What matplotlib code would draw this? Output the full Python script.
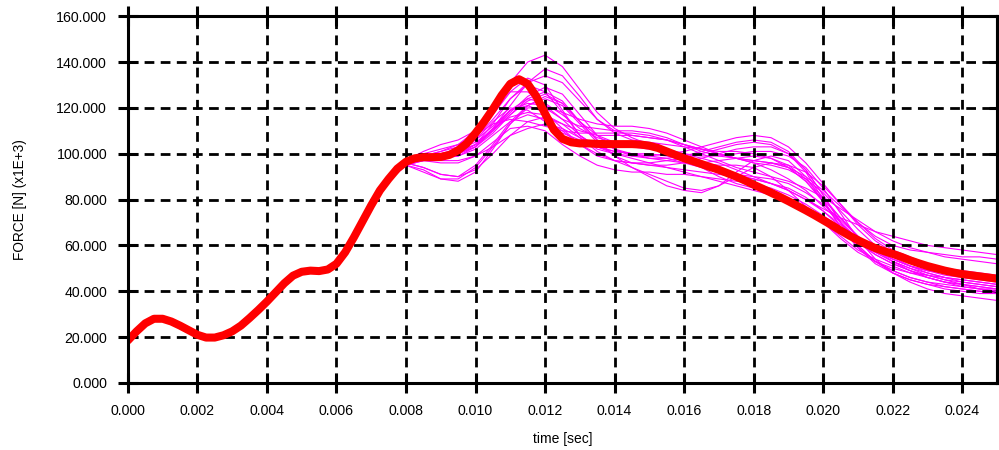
import numpy as np
import matplotlib
matplotlib.use("Agg")
import matplotlib.pyplot as plt
from matplotlib.ticker import FormatStrFormatter, MultipleLocator

plt.rcParams['font.family'] = ['Liberation Sans', 'DejaVu Sans']

# ------------------------------------------------
# Mean force curve (kN), sampled every 0.25 ms
# ------------------------------------------------
t_mean = np.round(np.arange(101) * 0.00025, 5)
force_mean = [18.5, 22.5, 26.0, 28.0, 28.0, 26.8, 25.0, 23.0, 21.0, 19.8,
              19.8, 20.8, 22.5, 25.0, 28.3, 31.8, 35.5, 39.5, 43.5, 46.8,
              48.5, 49.0, 48.8, 49.5, 52.0, 57.0, 63.5, 70.5, 77.5, 84.0,
              89.0, 93.5, 96.5, 98.0, 98.5, 98.5, 98.6, 99.5, 101.5, 104.5,
              109.0, 114.0, 119.5, 125.5, 130.5, 132.5, 130.5, 125.0, 117.5, 110.5,
              106.5, 105.0, 104.5, 104.5, 104.3, 104.2, 104.2, 104.2, 104.2, 104.0,
              103.5, 102.5, 101.0, 99.5, 98.0, 96.8, 95.5, 94.2, 93.0, 91.5,
              90.0, 88.3, 86.5, 84.8, 83.0, 81.2, 79.3, 77.3, 75.3, 73.2,
              71.0, 68.8, 66.5, 64.3, 62.3, 60.5, 58.8, 57.5, 56.3, 55.0,
              53.5, 52.2, 51.0, 50.0, 49.0, 48.2, 47.5, 47.0, 46.5, 46.0,
              45.5]

# ------------------------------------------------
# Individual runs (kN), 7 ms .. 25 ms every 0.5 ms
# (before 7 ms all runs sit under the mean curve)
# ------------------------------------------------
t_runs = np.round(0.007 + np.arange(37) * 0.0005, 4)

run_01 = [78, 89, 96, 99, 101, 104, 110, 120, 131, 140, 143, 138, 128, 118, 111, 107, 104, 101, 98,
          96, 95, 95, 94, 90, 84, 77, 70, 63, 57, 53, 50, 48, 47, 46, 45, 44, 43]
run_02 = [77, 88, 95, 97, 99, 102, 107, 115, 124, 131, 134, 131, 123, 115, 110, 108, 107, 106, 104,
          102, 101, 101, 100, 98, 94, 88, 80, 72, 64, 58, 54, 51, 49, 48, 47, 46, 45]
run_03 = [78, 89, 95, 93, 89, 88, 92, 102, 113, 120, 120, 115, 108, 103, 101, 100, 100, 99, 97,
          94, 90, 87, 85, 83, 80, 76, 71, 66, 61, 57, 53, 50, 47, 45, 43, 41, 40]
run_04 = [78, 90, 96, 94, 91, 90, 95, 104, 114, 121, 125, 122, 114, 106, 99, 94, 90, 86, 84,
          83, 86, 92, 97, 99, 97, 90, 79, 68, 59, 52, 48, 45, 43, 42, 41, 40, 39]
run_05 = [78, 89, 97, 101, 104, 106, 110, 118, 127, 127, 121, 115, 112, 111, 110, 110, 109, 107, 104,
          101, 99, 98, 97, 96, 95, 92, 86, 78, 69, 62, 57, 53, 50, 48, 47, 46, 45]
run_06 = [77, 89, 96, 98, 98, 99, 102, 108, 114, 117, 115, 110, 104, 100, 97, 96, 96, 97, 98,
          100, 102, 104, 105, 104, 100, 92, 80, 68, 59, 53, 49, 46, 44, 42, 41, 40, 39]
run_07 = [78, 89, 96, 97, 96, 96, 99, 105, 111, 112, 110, 104, 99, 95, 93, 92, 92, 91, 91,
          90, 89, 88, 87, 85, 82, 78, 73, 68, 63, 59, 56, 53, 51, 49, 48, 47, 46]
run_08 = [77, 89, 96, 98, 100, 101, 104, 113, 124, 130, 127, 118, 108, 102, 100, 99, 99, 100, 101,
          103, 105, 107, 108, 107, 103, 96, 87, 78, 70, 64, 60, 58, 57, 56, 55, 55, 54]
run_09 = [78, 89, 96, 98, 99, 100, 103, 110, 119, 124, 122, 117, 111, 107, 105, 104, 103, 102, 100,
          98, 96, 93, 90, 87, 84, 80, 76, 72, 69, 66, 64, 62, 60, 59, 58, 57, 56]
run_10 = [77, 88, 95, 97, 98, 100, 104, 111, 121, 131, 137, 134, 125, 115, 109, 106, 105, 104, 103,
          102, 100, 98, 96, 93, 89, 84, 77, 70, 63, 57, 53, 50, 48, 46, 45, 44, 43]
run_11 = [78, 90, 96, 94, 91, 90, 93, 100, 108, 114, 116, 113, 107, 101, 97, 94, 91, 88, 85,
          84, 86, 90, 94, 96, 94, 88, 79, 70, 62, 56, 52, 49, 46, 44, 42, 41, 40]
run_12 = [78, 89, 96, 99, 101, 103, 106, 112, 119, 122, 121, 118, 115, 113, 112, 112, 111, 109, 106,
          103, 100, 98, 96, 95, 93, 89, 83, 75, 67, 60, 55, 51, 48, 46, 44, 43, 42]
run_13 = [77, 89, 96, 98, 99, 100, 103, 109, 117, 124, 127, 123, 114, 106, 102, 100, 98, 97, 96,
          96, 97, 98, 99, 98, 95, 89, 81, 72, 64, 58, 53, 49, 46, 44, 43, 42, 41]
run_14 = [78, 89, 96, 97, 97, 97, 99, 103, 108, 111, 113, 111, 107, 103, 100, 98, 96, 94, 92,
          90, 88, 86, 84, 82, 79, 75, 70, 64, 58, 54, 51, 48, 46, 44, 43, 42, 41]
run_15 = [77, 89, 96, 98, 99, 101, 106, 114, 120, 119, 114, 109, 106, 105, 104, 103, 102, 101, 100,
          99, 99, 100, 101, 101, 99, 94, 85, 74, 63, 54, 48, 44, 41, 39, 38, 37, 36]
run_16 = [78, 89, 96, 98, 100, 102, 107, 117, 127, 133, 130, 119, 108, 103, 101, 100, 99, 98, 96,
          94, 92, 91, 90, 89, 87, 83, 78, 71, 64, 58, 54, 51, 49, 47, 46, 45, 44]
run_17 = [77, 89, 96, 98, 99, 100, 104, 111, 116, 118, 117, 113, 110, 108, 108, 108, 107, 106, 104,
          102, 100, 98, 97, 96, 94, 90, 84, 77, 70, 63, 58, 55, 52, 50, 49, 48, 47]
run_18 = [78, 90, 95, 92, 89, 89, 94, 103, 113, 121, 124, 121, 113, 105, 99, 96, 95, 95, 96,
          98, 100, 102, 103, 103, 100, 93, 82, 70, 60, 53, 48, 45, 43, 41, 40, 39, 39]
run_19 = [78, 89, 96, 98, 100, 102, 105, 110, 117, 123, 126, 122, 114, 108, 105, 104, 103, 101, 98,
          95, 93, 91, 89, 87, 85, 81, 75, 68, 61, 56, 52, 49, 47, 45, 44, 43, 42]
run_20 = [77, 89, 96, 98, 98, 99, 103, 111, 119, 121, 118, 111, 104, 99, 97, 96, 95, 94, 93,
          92, 91, 90, 89, 87, 84, 80, 75, 69, 63, 58, 54, 51, 49, 48, 47, 46, 46]
run_21 = [78, 89, 96, 98, 99, 101, 104, 110, 118, 125, 129, 126, 117, 108, 102, 99, 98, 98, 99,
          101, 103, 105, 106, 105, 101, 93, 82, 70, 60, 53, 49, 46, 44, 43, 42, 41, 41]
run_22 = [78, 89, 97, 100, 102, 104, 108, 113, 115, 114, 112, 110, 109, 109, 109, 109, 108, 106, 103,
          100, 97, 94, 92, 90, 88, 85, 81, 76, 71, 66, 62, 59, 57, 55, 54, 53, 52]

runs = [run_01, run_02, run_03, run_04, run_05, run_06, run_07, run_08, run_09, run_10, run_11,
        run_12, run_13, run_14, run_15, run_16, run_17, run_18, run_19, run_20, run_21, run_22]

# -------------
# Drawing plot
# -------------
fig = plt.figure(figsize=(9.99, 4.5), dpi=100)
ax = fig.add_axes([0.128, 0.149, 0.870, 0.815])

for run in runs:
    ax.plot(t_runs, run, color="#ff00ff", lw=0.8, zorder=1)

ax.plot(t_mean, force_mean, color="#ff0000", lw=5.8, solid_capstyle="round",
        solid_joinstyle="round", zorder=3)

ax.set_xlim(0, 0.025)
ax.set_ylim(0, 160)
ax.xaxis.set_major_locator(MultipleLocator(0.002))
ax.yaxis.set_major_locator(MultipleLocator(20))
ax.xaxis.set_major_formatter(FormatStrFormatter("%.3f"))
ax.yaxis.set_major_formatter(FormatStrFormatter("%.3f"))

ax.grid(True, color="black", lw=2.0, linestyle=(0, (3.5, 2.3)))
ax.set_axisbelow(False)

for side in ["left", "bottom", "top", "right"]:
    ax.spines[side].set_linewidth(2.2)
    ax.spines[side].set_zorder(4)

ax.tick_params(axis="both", which="major", direction="inout", length=14, width=2.2,
               labelsize=10.2, pad=8, top=True, right=False)
ax.tick_params(axis="x", pad=8)

# short inward ticks on the right frame
right_ax = ax.secondary_yaxis("right")
right_ax.yaxis.set_major_locator(MultipleLocator(20))
right_ax.tick_params(direction="in", length=6, width=2.2, labelright=False)
right_ax.spines["right"].set_linewidth(2.2)

ax.set_xlabel("time [sec]", fontsize=10, labelpad=10)
ax.set_ylabel("FORCE [N] (x1E+3)", fontsize=9.8, labelpad=21)

fig.savefig("out.png", dpi=100)
